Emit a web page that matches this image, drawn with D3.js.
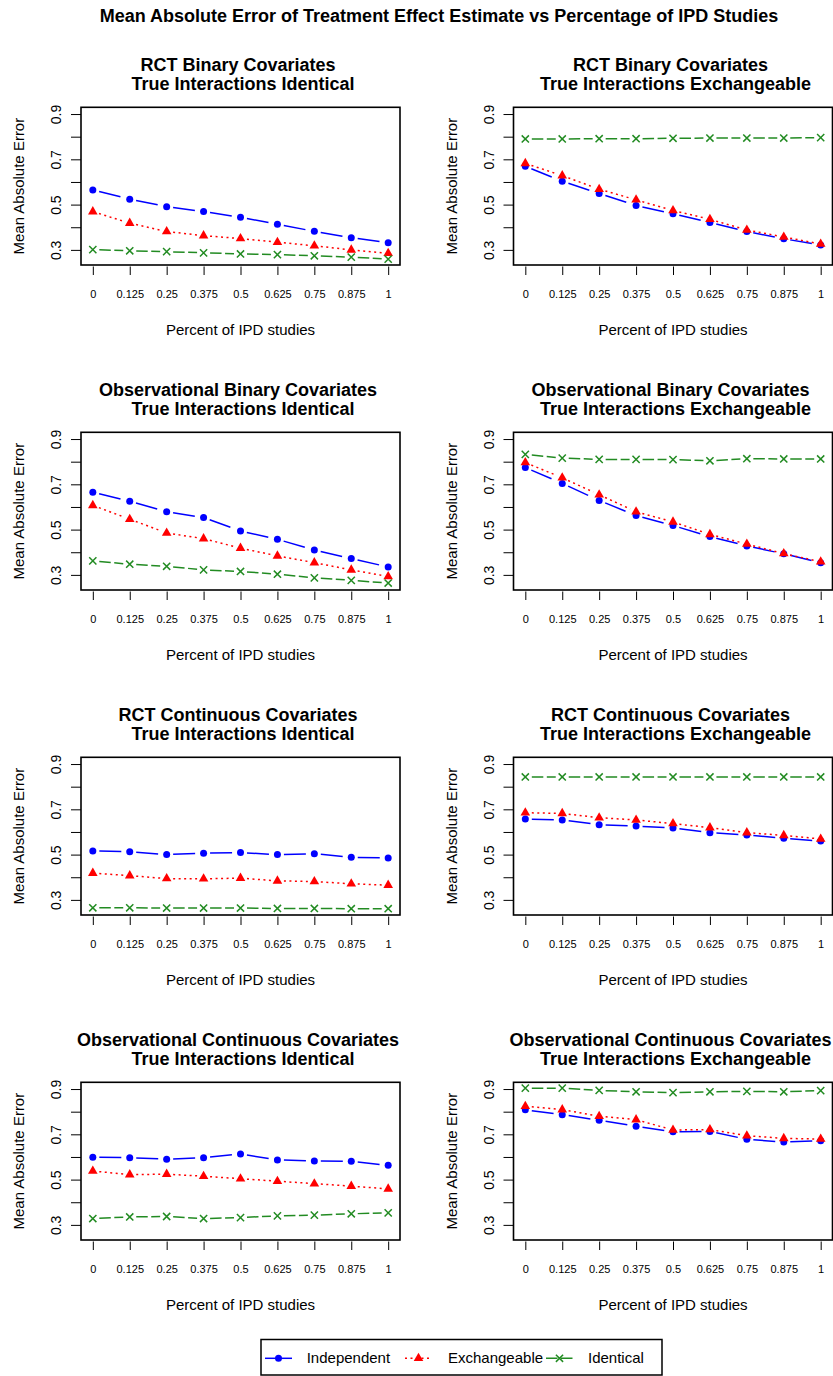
<!DOCTYPE html>
<html>
<head>
<meta charset="utf-8">
<script src="https://cdn.jsdelivr.net/npm/d3@7"></script>
<style>
  html, body { margin: 0; padding: 0; background: #fff; }
  svg { display: block; font-family: "Liberation Sans", Arial, Helvetica, sans-serif; }
  text { white-space: pre; }
</style>
</head>
<body>
<svg id="chart" width="833" height="1376"></svg>
<script>
// ---- data ----
const xValues = [0, 0.125, 0.25, 0.375, 0.5, 0.625, 0.75, 0.875, 1];
const xTickLabels = ["0", "0.125", "0.25", "0.375", "0.5", "0.625", "0.75", "0.875", "1"];
const yTicks = [0.3, 0.4, 0.5, 0.6, 0.7, 0.8, 0.9];
const yTickLabels = ["0.3", "", "0.5", "", "0.7", "", "0.9"];
const seriesNames = ["Independent", "Exchangeable", "Identical"];

const mainTitle = "Mean Absolute Error of Treatment Effect Estimate vs Percentage of IPD Studies";
const xAxisTitle = "Percent of IPD studies";
const yAxisTitle = "Mean Absolute Error";

// RCT, binary covariates, true interactions identical
const rctBinIdentIndependent  = [0.565, 0.524, 0.491, 0.469, 0.444, 0.413, 0.382, 0.354, 0.332];
const rctBinIdentExchangeable = [0.469, 0.418, 0.381, 0.363, 0.350, 0.334, 0.318, 0.300, 0.285];
const rctBinIdentIdentical    = [0.301, 0.296, 0.292, 0.287, 0.282, 0.279, 0.274, 0.268, 0.259];
// RCT, binary covariates, true interactions exchangeable
const rctBinExchIndependent  = [0.669, 0.603, 0.549, 0.496, 0.460, 0.421, 0.381, 0.349, 0.321];
const rctBinExchExchangeable = [0.682, 0.628, 0.568, 0.521, 0.474, 0.435, 0.388, 0.357, 0.326];
const rctBinExchIdentical    = [0.790, 0.790, 0.791, 0.791, 0.793, 0.794, 0.794, 0.794, 0.796];
// Observational, binary covariates, identical
const obsBinIdentIndependent  = [0.665, 0.625, 0.579, 0.553, 0.494, 0.457, 0.410, 0.372, 0.335];
const obsBinIdentExchangeable = [0.607, 0.546, 0.485, 0.460, 0.418, 0.384, 0.354, 0.322, 0.293];
const obsBinIdentIdentical    = [0.362, 0.347, 0.338, 0.322, 0.315, 0.303, 0.287, 0.276, 0.264];
// Observational, binary covariates, exchangeable
const obsBinExchIndependent  = [0.774, 0.704, 0.629, 0.562, 0.518, 0.469, 0.428, 0.393, 0.354];
const obsBinExchExchangeable = [0.796, 0.729, 0.654, 0.579, 0.534, 0.479, 0.436, 0.394, 0.358];
const obsBinExchIdentical    = [0.832, 0.816, 0.810, 0.810, 0.809, 0.804, 0.813, 0.812, 0.812];
// RCT, continuous covariates, identical
const rctConIdentIndependent  = [0.516, 0.513, 0.500, 0.506, 0.509, 0.500, 0.504, 0.488, 0.485];
const rctConIdentExchangeable = [0.418, 0.407, 0.394, 0.393, 0.396, 0.384, 0.381, 0.371, 0.365];
const rctConIdentIdentical    = [0.265, 0.265, 0.264, 0.264, 0.264, 0.262, 0.262, 0.261, 0.261];
// RCT, continuous covariates, exchangeable
const rctConExchIndependent  = [0.657, 0.653, 0.632, 0.626, 0.618, 0.597, 0.587, 0.572, 0.560];
const rctConExchExchangeable = [0.685, 0.682, 0.663, 0.653, 0.637, 0.619, 0.597, 0.585, 0.569];
const rctConExchIdentical    = [0.843, 0.843, 0.843, 0.843, 0.843, 0.843, 0.843, 0.843, 0.843];
// Observational, continuous covariates, identical
const obsConIdentIndependent  = [0.599, 0.597, 0.590, 0.597, 0.613, 0.587, 0.582, 0.581, 0.563];
const obsConIdentExchangeable = [0.538, 0.522, 0.524, 0.515, 0.504, 0.493, 0.482, 0.471, 0.459];
const obsConIdentIdentical    = [0.328, 0.335, 0.337, 0.328, 0.332, 0.340, 0.343, 0.349, 0.353];
// Observational, continuous covariates, exchangeable
const obsConExchIndependent  = [0.808, 0.787, 0.762, 0.736, 0.711, 0.713, 0.678, 0.666, 0.672];
const obsConExchExchangeable = [0.824, 0.809, 0.780, 0.765, 0.719, 0.721, 0.694, 0.682, 0.679];
const obsConExchIdentical    = [0.904, 0.904, 0.894, 0.888, 0.884, 0.888, 0.890, 0.888, 0.893];

const panels = [
  { t1: "RCT Binary Covariates ", t2: " True Interactions Identical", s: [rctBinIdentIndependent, rctBinIdentExchangeable, rctBinIdentIdentical] },
  { t1: "RCT Binary Covariates ", t2: " True Interactions Exchangeable", s: [rctBinExchIndependent, rctBinExchExchangeable, rctBinExchIdentical] },
  { t1: "Observational Binary Covariates ", t2: " True Interactions Identical", s: [obsBinIdentIndependent, obsBinIdentExchangeable, obsBinIdentIdentical] },
  { t1: "Observational Binary Covariates ", t2: " True Interactions Exchangeable", s: [obsBinExchIndependent, obsBinExchExchangeable, obsBinExchIdentical] },
  { t1: "RCT Continuous Covariates ", t2: " True Interactions Identical", s: [rctConIdentIndependent, rctConIdentExchangeable, rctConIdentIdentical] },
  { t1: "RCT Continuous Covariates ", t2: " True Interactions Exchangeable", s: [rctConExchIndependent, rctConExchExchangeable, rctConExchIdentical] },
  { t1: "Observational Continuous Covariates ", t2: " True Interactions Identical", s: [obsConIdentIndependent, obsConIdentExchangeable, obsConIdentIdentical] },
  { t1: "Observational Continuous Covariates ", t2: " True Interactions Exchangeable", s: [obsConExchIndependent, obsConExchExchangeable, obsConExchIdentical] }
];

// ---- styling ----
const seriesStyle = [
  { color: "#0000ff", dash: "22 6",    shape: "circle" },
  { color: "#ff0000", dash: "2 3.5",   shape: "triangle" },
  { color: "#228b22", dash: "11.5 3.5", shape: "cross" }
];

// ---- layout ----
const colLeft = [81, 513.5];
const plotW = 319;
const plotTop0 = 107.3;
const plotH = 157.7;
const rowStep = 325;

const svg = d3.select("#chart");

svg.append("text")
  .attr("x", 439).attr("y", 21.7)
  .attr("text-anchor", "middle")
  .attr("font-size", 18).attr("font-weight", "bold")
  .text(mainTitle);

// common y range over all panels, padded by 4% on each side
const allVals = panels.flatMap(p => p.s.flat());
const [yMin, yMax] = d3.extent(allVals);
const yPad = (yMax - yMin) * 0.04;
const xPad = (d3.max(xValues) - d3.min(xValues)) * 0.04;

function drawMarker(g, shape, color, cx, cy) {
  if (shape === "circle") {
    g.append("circle").attr("cx", cx).attr("cy", cy).attr("r", 3.5).attr("fill", color);
  } else if (shape === "triangle") {
    g.append("path")
      .attr("d", d3.symbol(d3.symbolTriangle, 40)())
      .attr("transform", `translate(${cx},${cy})`)
      .attr("fill", color);
  } else {
    const a = 3.6;
    g.append("path")
      .attr("d", `M${cx - a},${cy - a}L${cx + a},${cy + a}M${cx - a},${cy + a}L${cx + a},${cy - a}`)
      .attr("stroke", color).attr("stroke-width", 1.5).attr("fill", "none");
  }
}

panels.forEach((p, i) => {
  const col = i % 2, row = Math.floor(i / 2);
  const left = colLeft[col];
  const top = plotTop0 + row * rowStep;
  const bottom = top + plotH;
  const cx = left + plotW / 2;

  const x = d3.scaleLinear()
    .domain([d3.min(xValues) - xPad, d3.max(xValues) + xPad])
    .range([left, left + plotW]);
  const y = d3.scaleLinear()
    .domain([yMin - yPad, yMax + yPad])
    .range([bottom, top]);

  const g = svg.append("g");

  // panel title (two lines)
  g.append("text").attr("x", cx).attr("y", top - 36.7)
    .attr("text-anchor", "middle").attr("font-size", 18).attr("font-weight", "bold")
    .text(p.t1);
  g.append("text").attr("x", cx).attr("y", top - 17.3)
    .attr("text-anchor", "middle").attr("font-size", 18).attr("font-weight", "bold")
    .text(p.t2);

  // x axis
  const xAxis = g.append("g")
    .attr("transform", `translate(0,${bottom + 1.5})`)
    .call(d3.axisBottom(x).tickValues(xValues).tickSize(8.5)
      .tickFormat((d, k) => xTickLabels[k]));
  xAxis.select(".domain").remove();
  xAxis.selectAll(".tick line").attr("stroke", "#000").attr("stroke-width", 1);
  xAxis.selectAll(".tick text")
    .attr("y", 31.8).attr("dy", 0)
    .attr("font-size", 11).attr("font-family", null).attr("fill", "#000");
  xAxis.attr("font-family", null).attr("font-size", null);

  // y axis
  const yAxis = g.append("g")
    .attr("transform", `translate(${left},0)`)
    .call(d3.axisLeft(y).tickValues(yTicks).tickSize(10)
      .tickFormat((d, k) => yTickLabels[k]));
  yAxis.select(".domain").remove();
  yAxis.selectAll(".tick line").attr("stroke", "#000").attr("stroke-width", 1);
  yAxis.selectAll(".tick text")
    .attr("x", 0).attr("y", 0).attr("dy", 0)
    .attr("text-anchor", "middle")
    .attr("transform", "translate(-20,0) rotate(-90)")
    .attr("font-size", 14).attr("fill", "#000");
  yAxis.attr("font-family", null).attr("font-size", null);

  // axis titles
  g.append("text").attr("x", cx).attr("y", bottom + 70)
    .attr("text-anchor", "middle").attr("font-size", 15)
    .text(xAxisTitle);
  g.append("text")
    .attr("transform", `translate(${left - 57},${(top + bottom) / 2}) rotate(-90)`)
    .attr("text-anchor", "middle").attr("font-size", 15)
    .text(yAxisTitle);

  // series: broken lines between points, then markers
  const gap = 6.5;
  p.s.forEach((vals, si) => {
    const st = seriesStyle[si];
    const pts = vals.map((v, k) => [x(xValues[k]), y(v)]);
    for (let k = 0; k < pts.length - 1; k++) {
      const [x1, y1] = pts[k], [x2, y2] = pts[k + 1];
      const len = Math.hypot(x2 - x1, y2 - y1);
      if (len <= 2 * gap) continue;
      const ux = (x2 - x1) / len, uy = (y2 - y1) / len;
      g.append("path")
        .attr("d", d3.line()([[x1 + ux * gap, y1 + uy * gap], [x2 - ux * gap, y2 - uy * gap]]))
        .attr("stroke", st.color).attr("stroke-width", 1.5)
        .attr("stroke-dasharray", st.dash).attr("fill", "none");
    }
    pts.forEach(([px, py]) => drawMarker(g, st.shape, st.color, px, py));
  });

  // plot frame
  g.append("rect")
    .attr("x", left).attr("y", top).attr("width", plotW).attr("height", plotH)
    .attr("fill", "none").attr("stroke", "#000").attr("stroke-width", 1.6);
});

// ---- legend ----
const lg = svg.append("g");
lg.append("rect").attr("x", 261).attr("y", 1339.5).attr("width", 401).attr("height", 35.5)
  .attr("fill", "none").attr("stroke", "#000").attr("stroke-width", 1.5);
const legendItems = [
  { lineX: 265, textX: 306.7 },
  { lineX: 405, textX: 448 },
  { lineX: 546, textX: 588 }
];
const legendY = 1358.3;
seriesNames.forEach((name, i) => {
  const st = seriesStyle[i];
  const it = legendItems[i];
  lg.append("line")
    .attr("x1", it.lineX).attr("x2", it.lineX + 27).attr("y1", legendY).attr("y2", legendY)
    .attr("stroke", st.color).attr("stroke-width", 1.5)
    .attr("stroke-dasharray", i === 0 ? null : st.dash);
  drawMarker(lg, st.shape, st.color, it.lineX + 13.5, legendY);
  lg.append("text").attr("x", it.textX).attr("y", 1363).attr("font-size", 15).text(name);
});
</script>
</body>
</html>
